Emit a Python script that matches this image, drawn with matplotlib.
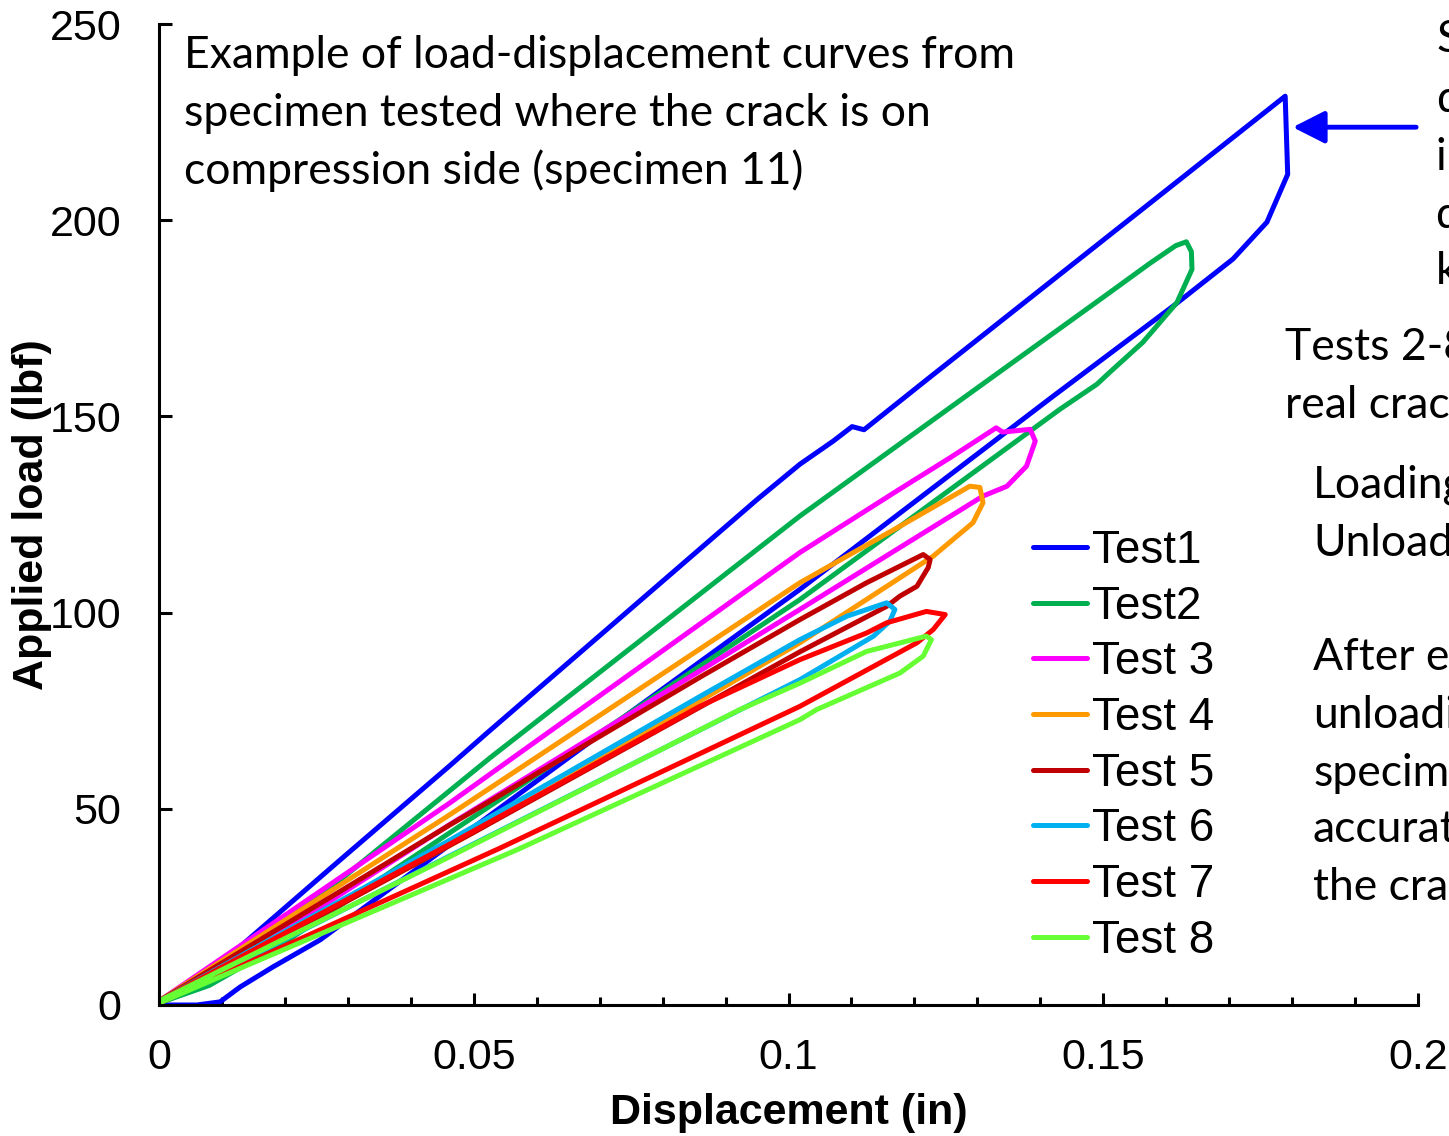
import matplotlib
matplotlib.use("Agg")
import matplotlib.pyplot as plt
from matplotlib.ticker import MultipleLocator, FuncFormatter

# Load-displacement loops (loading branch then unloading branch), in / lbf
test1_x = [0.0, 0.0022, 0.0129, 0.0288, 0.0462, 0.0521, 0.0950, 0.1018, 0.1071, 0.1101,
           0.1120, 0.1220, 0.1789, 0.1793, 0.1760, 0.1706, 0.1611, 0.1420, 0.1018, 0.0748,
           0.0256, 0.0181, 0.0129, 0.0097, 0.0060, 0.0]
test1_y = [0.0, 3.1, 14.9, 37.0, 61.0, 69.3, 128.8, 137.8, 143.7, 147.4,
           146.6, 159.4, 231.6, 211.7, 199.5, 190.1, 178.1, 155.1, 105.9, 74.5,
           16.6, 9.7, 4.6, 0.8, 0.0, 0.0]

test2_x = [0.0, 0.0129, 0.0288, 0.0526, 0.1018, 0.1309, 0.1495, 0.1574, 0.1615, 0.1632,
           0.1640, 0.1641, 0.1617, 0.1563, 0.1510, 0.1490, 0.1431, 0.1018, 0.0462, 0.0200,
           0.0080, 0.0]
test2_y = [1.0, 13.3, 31.9, 63.0, 124.6, 158.3, 179.8, 189.0, 193.5, 194.5,
           192.0, 187.5, 179.0, 168.9, 161.2, 158.2, 151.8, 103.3, 43.9, 16.0,
           5.0, 0.5]

test3_x = [0.0, 0.0462, 0.1018, 0.1177, 0.1257, 0.1330, 0.1340, 0.1384, 0.1392, 0.1378,
           0.1347, 0.1309, 0.1018, 0.0462, 0.0150, 0.0]
test3_y = [1.0, 51.5, 115.3, 131.5, 139.5, 147.1, 146.0, 146.7, 143.7, 137.3,
           132.2, 129.7, 100.8, 46.0, 14.0, 0.5]

test4_x = [0.0, 0.0462, 0.1018, 0.1177, 0.1288, 0.1304, 0.1309, 0.1293, 0.1230, 0.1018,
           0.0500, 0.0]
test4_y = [1.0, 48.5, 107.6, 122.0, 132.2, 131.9, 128.0, 122.9, 114.4, 92.3,
           44.0, 0.5]

test5_x = [0.0, 0.0462, 0.0859, 0.1018, 0.1124, 0.1214, 0.1225, 0.1222, 0.1204, 0.1177,
           0.1156, 0.1018, 0.0500, 0.0]
test5_y = [1.0, 45.9, 83.5, 98.2, 107.6, 114.8, 113.5, 111.5, 106.7, 104.2,
           101.6, 90.0, 44.0, 0.5]

test6_x = [0.0, 0.0462, 0.0859, 0.1018, 0.1093, 0.1156, 0.1169, 0.1161, 0.1135, 0.1018,
           0.0462, 0.0]
test6_y = [1.0, 42.0, 78.6, 93.1, 99.1, 102.5, 100.8, 97.8, 94.0, 82.9,
           38.0, 0.5]

test7_x = [0.0, 0.0462, 0.0859, 0.1018, 0.1124, 0.1156, 0.1219, 0.1249, 0.1230, 0.1204,
           0.1018, 0.0542, 0.0]
test7_y = [1.0, 41.0, 76.1, 88.0, 94.8, 97.4, 100.3, 99.5, 95.7, 92.3,
           76.1, 40.0, 0.5]

test8_x = [0.0, 0.0462, 0.0923, 0.1018, 0.1124, 0.1219, 0.1227, 0.1214, 0.1177, 0.1045,
           0.1018, 0.0568, 0.0]
test8_y = [1.0, 37.8, 75.3, 82.0, 90.1, 94.0, 93.1, 88.9, 84.6, 75.3,
           72.7, 39.5, 0.5]

series = [
    ("Test1", test1_x, test1_y, "#0000FF"),
    ("Test2", test2_x, test2_y, "#00B050"),
    ("Test 3", test3_x, test3_y, "#FF00FF"),
    ("Test 4", test4_x, test4_y, "#FF9900"),
    ("Test 5", test5_x, test5_y, "#C00000"),
    ("Test 6", test6_x, test6_y, "#00B0F0"),
    ("Test 7", test7_x, test7_y, "#FF0000"),
    ("Test 8", test8_x, test8_y, "#66FF33"),
]

W, H = 1449, 1136
fig = plt.figure(figsize=(W / 100, H / 100), dpi=100)
ax = fig.add_axes([159 / W, 1 - 1005 / H, (1418 - 159) / W, (1005 - 24) / H])

for name, xs, ys, col in series:
    ax.plot(xs, ys, color=col, lw=3.6, label=name,
            solid_joinstyle="round", solid_capstyle="round")

ax.set_xlim(0, 0.2)
ax.set_ylim(0, 250)
ax.xaxis.set_major_locator(MultipleLocator(0.05))
ax.xaxis.set_minor_locator(MultipleLocator(0.01))
ax.yaxis.set_major_locator(MultipleLocator(50))
ax.xaxis.set_major_formatter(FuncFormatter(lambda v, p: f"{v:g}"))
for s in ("top", "right"):
    ax.spines[s].set_visible(False)
for s in ("left", "bottom"):
    ax.spines[s].set_linewidth(2.2)
ax.tick_params(axis="both", which="major", direction="in", length=9, width=2.2,
               labelsize=31)
ax.tick_params(axis="x", which="major", pad=24)
ax.tick_params(axis="y", which="major", pad=27)
ax.tick_params(axis="x", which="minor", direction="in", length=6, width=2.2)
for lbl in ax.get_xticklabels() + ax.get_yticklabels():
    lbl.set_fontfamily("Liberation Sans")

ax.set_xlabel("Displacement (in)", fontsize=31, fontweight="bold",
              family="Liberation Sans")
ax.xaxis.set_label_coords(0.5, -(1113 - 1005) / (1005 - 24), transform=ax.transAxes)
ax.xaxis.label.set_va("center")
ax.set_ylabel("Applied load (lbf)", fontsize=31, fontweight="bold",
              family="Liberation Sans")
ax.yaxis.set_label_coords(-(159 - 32) / (1418 - 159), 0.5)
ax.yaxis.label.set_va("center")

leg = ax.legend(loc="upper left", bbox_to_anchor=(1033 / W, 1 - 529 / H),
                bbox_transform=fig.transFigure, frameon=False,
                prop={"family": "Liberation Sans", "size": 33},
                handlelength=1.18, handletextpad=0.11, labelspacing=0.255,
                borderpad=0, borderaxespad=0)
for line in leg.get_lines():
    line.set_linewidth(3.6)

def ftext(x, y, s, **kw):
    fig.text(x / W, 1 - y / H, s, va="center", ha="left",
             family="Lato", fontsize=32, **kw)

ftext(184, 55, "Example of load-displacement curves from")
ftext(184, 113, "specimen tested where the crack is on")
ftext(184, 171, "compression side (specimen 11)")

for yy, s in [(40, "Sudden"), (100, "drop"), (157, "in load"),
              (215, "due to"), (272, "kinking")]:
    ftext(1436, yy, s)
ftext(1285, 348, "Tests 2-8 with")
ftext(1285, 406, "real crack")
ftext(1313, 485, "Loading")
ftext(1313, 543, "Unloading")
for yy, s in [(658, "After each"), (716, "unloading"), (774, "specimen"),
              (830, "accurately"), (887, "the crack")]:
    ftext(1313, yy, s)

ax.annotate("", xy=(0.1801, 223.7), xytext=(0.1997, 223.7),
            arrowprops=dict(arrowstyle="-|>,head_length=0.65,head_width=0.33",
                            mutation_scale=30, lw=3.5, color="#0000FF",
                            shrinkA=0, shrinkB=0),
            annotation_clip=False)

fig.savefig("out.png", dpi=100)
